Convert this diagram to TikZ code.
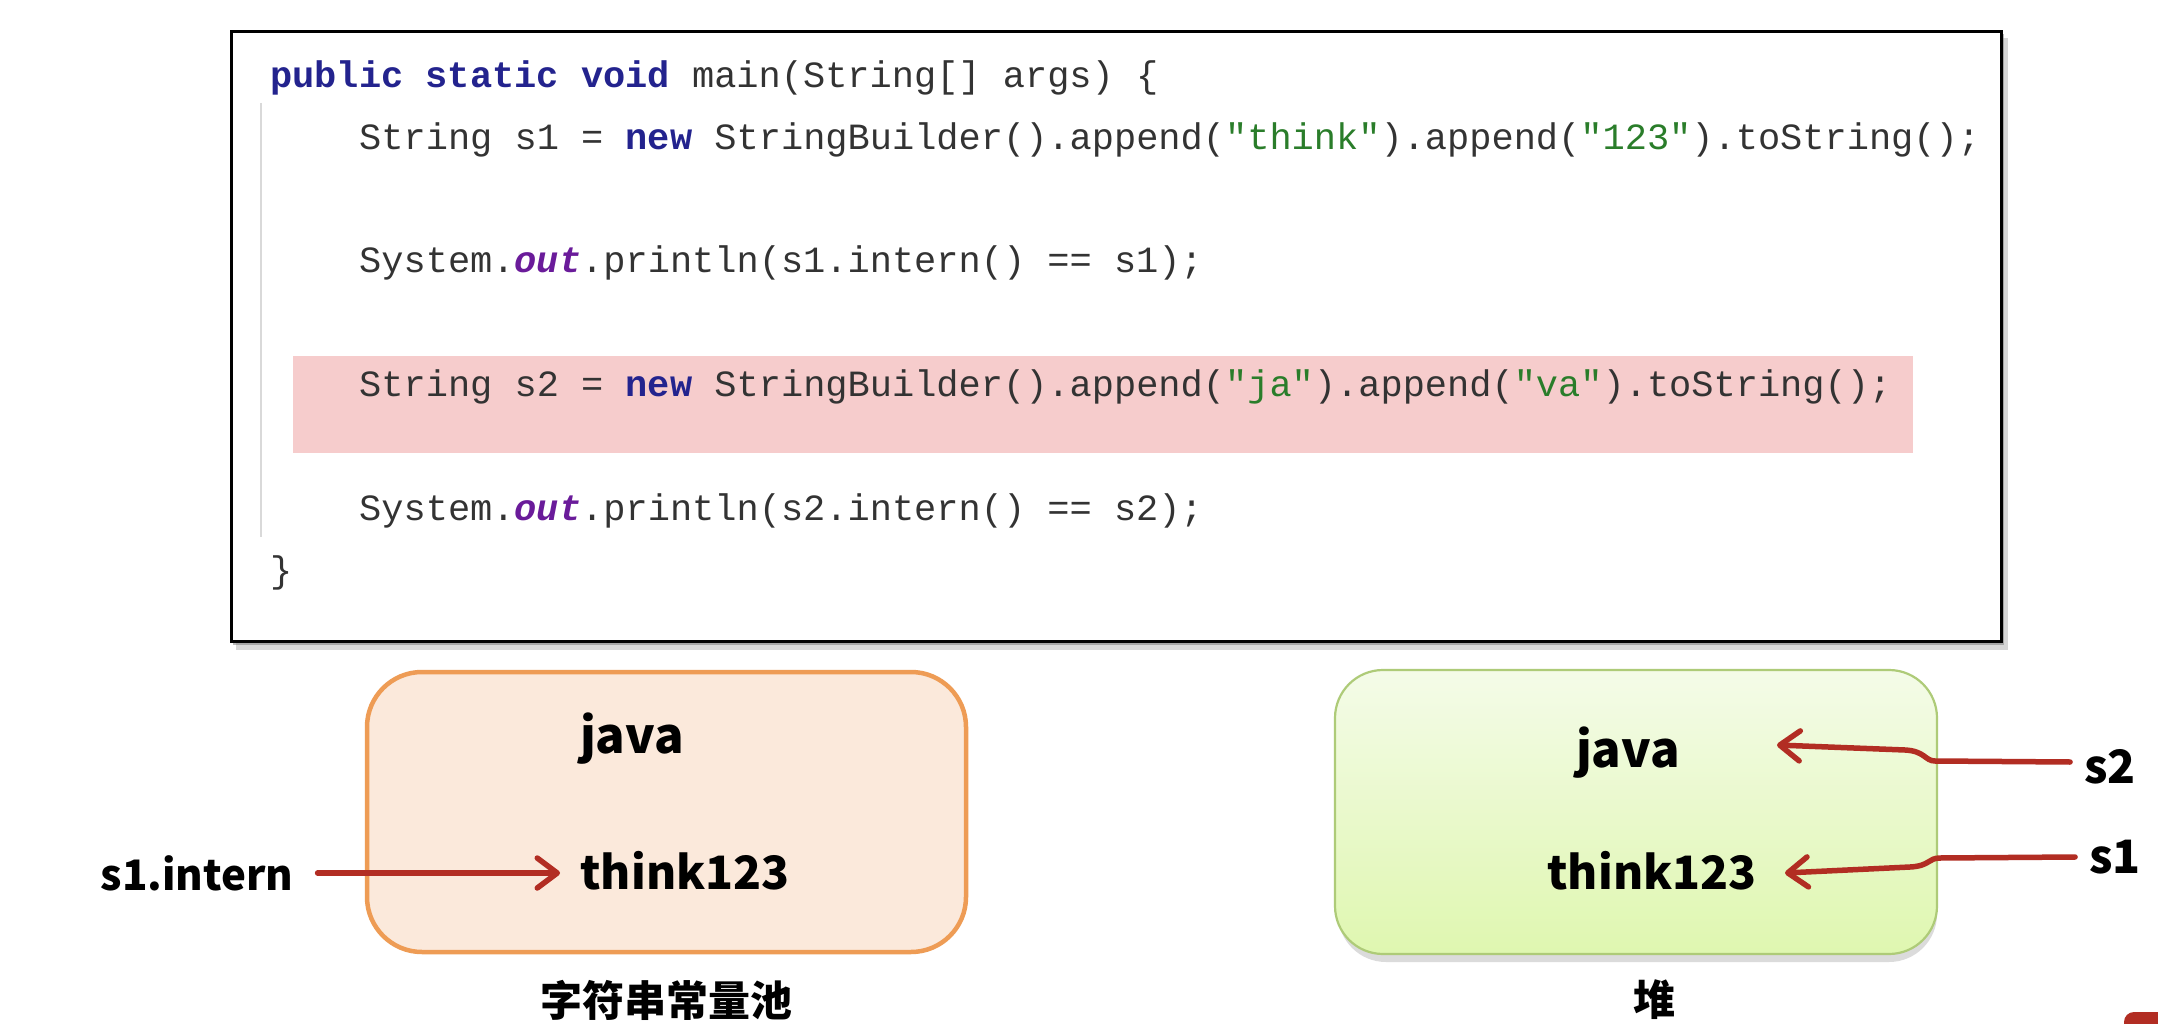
\documentclass[tikz,border=0pt]{standalone}
\usepackage{fontspec}
\setmonofont{Liberation Mono}
\newfontfamily\cjk{Noto Sans CJK SC}
\usetikzlibrary{arrows.meta}
\definecolor{kw}{HTML}{23238E}
\definecolor{strc}{HTML}{2A7D2A}
\definecolor{outc}{HTML}{6A1B9A}
\definecolor{codec}{HTML}{333333}
\definecolor{hl}{HTML}{F6CCCC}
\definecolor{orbd}{HTML}{EE9C55}
\definecolor{orfill}{HTML}{FBE9DB}
\definecolor{grbd}{HTML}{AECB78}
\definecolor{grtop}{HTML}{F4FBE8}
\definecolor{grbot}{HTML}{DFF7B0}
\definecolor{arr}{HTML}{B22D23}
\tikzset{
  codeline/.style={anchor=mid west, inner sep=0pt, font=\ttfamily\fontsize{37}{40}\selectfont, text=codec},
  kwd/.style={},
  lbl/.style={inner sep=0pt, font=\cjk\bfseries\fontsize{49}{54}\selectfont, text=black},
  lblthin/.style={inner sep=0pt, font=\cjk\bfseries\fontsize{46}{50}\selectfont, text=black},
  captext/.style={inner sep=0pt, font=\cjk\bfseries\fontsize{42}{46}\selectfont, text=black},
  redarrow/.style={draw=arr, line width=5.5pt, line cap=round, -{Straight Barb[length=20pt,width=30pt,line cap=round,line join=round]}},
}
\newcommand{\kwtext}[1]{\textcolor{kw}{\bfseries #1}}
\newcommand{\strtext}[1]{\textcolor{strc}{#1}}
\newcommand{\outtext}{\textcolor{outc}{\bfseries\itshape out}}
\begin{document}
\begin{tikzpicture}[x=1pt,y=-1pt]
\useasboundingbox (0,0) rectangle (2158,1024);
\clip (0,0) rectangle (2158,1024);
\fill[white] (0,0) rectangle (2158,1024);
% code panel
\fill[black!45, opacity=0.35] (236,38) rectangle (2008,650);
\fill[black!55, opacity=0.5] (233,34) rectangle (2004,645);
\node[draw=black, line width=3pt, fill=white, minimum width=1770pt, minimum height=610pt, anchor=north west, inner sep=0pt] (code) at (230,30) {};
\node[fill=hl, minimum width=1620pt, minimum height=97pt, anchor=north west, inner sep=0pt] (hlbar) at (293,356) {};
\draw[black!15, line width=1.5pt] (261,103) -- (261,537);
\node[codeline] (l1) at (270,85) {\kwtext{public static void} main(String[] args) \{};
\node[codeline] (l2) at (359,147) {String s1 = \kwtext{new} StringBuilder().append(\strtext{"think"}).append(\strtext{"123"}).toString();};
\node[codeline] (l3) at (359,270) {System.\outtext.println(s1.intern() == s1);};
\node[codeline] (l4) at (359,394) {String s2 = \kwtext{new} StringBuilder().append(\strtext{"ja"}).append(\strtext{"va"}).toString();};
\node[codeline] (l5) at (359,518) {System.\outtext.println(s2.intern() == s2);};
\node[codeline] (l6) at (270,580) {\}};
% string pool
\draw[draw=orbd, fill=orfill, line width=4.5pt, rounded corners=55pt] (367,672) rectangle (966,952);
\node[lbl] (pjava) at (632,739) {java};
\node[lblthin] (pthink) at (685,871) {think123};
\node[lblthin, font=\cjk\bfseries\fontsize{42}{46}\selectfont] (sint) at (197,873) {s1.intern};
\node[captext] (pcap) at (666,1000) {字符串常量池};
\coordinate (t0) at (560,873);
\draw[redarrow] (sint.east) ++(24,0) -- (t0);
% heap
\fill[black!40, opacity=0.35, rounded corners=48pt] (1338,678) rectangle (1937,962);
\shade[top color=grtop, bottom color=grbot, rounded corners=48pt] (1335,670) rectangle (1937,954);
\draw[draw=grbd, line width=2.2pt, rounded corners=48pt] (1335,670) rectangle (1937,954);
\node[lbl] (hjava) at (1628,753) {java};
\node[lblthin] (hthink) at (1652,871) {think123};
\node[lblthin] (s2) at (2110,767) {s2};
\node[lblthin] (s1) at (2115,857) {s1};
\node[captext] (hcap) at (1654,1000) {堆};
\coordinate (t2) at (1777,745);
\coordinate (t1) at (1785,873);
\draw[redarrow] (s2.west) ++(-14,-5) -- (1935,761) .. controls (1925,761) and (1925,751) .. (1905,750) -- (t2);
\draw[redarrow] (s1.west) ++(-14,0) -- (1940,858) .. controls (1928,858) and (1930,866) .. (1910,867) -- (t1);
% partial red shape at corner
\fill[arr, rounded corners=10pt] (2124,1012) rectangle (2220,1080);
\end{tikzpicture}
\end{document}
